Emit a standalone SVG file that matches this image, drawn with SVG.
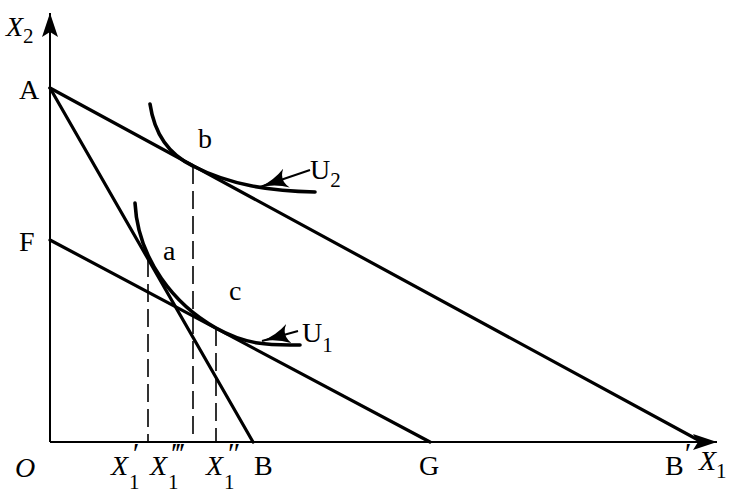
<svg xmlns="http://www.w3.org/2000/svg" width="750" height="498" viewBox="0 0 750 498">
<style>
.ax{stroke:#000;stroke-width:2;fill:none}
.ln{stroke:#000;stroke-width:3.2;fill:none;stroke-linecap:round}
.cv{stroke:#000;stroke-width:3.6;fill:none;stroke-linecap:round}
.ds{stroke:#000;stroke-width:1.6;fill:none;stroke-dasharray:18,7}
.pt{stroke:#000;stroke-width:2;fill:none}
text{font-family:"Liberation Serif","Times New Roman",serif;font-size:28px;fill:#000}
.it{font-style:italic}
.sb{font-size:21px;font-style:normal}
.pr{font-size:30px;font-style:italic}
</style>
<defs>
<marker id="ah" markerWidth="26" markerHeight="16" refX="24" refY="8" orient="auto" markerUnits="userSpaceOnUse">
<path d="M0,0 L24,8 L0,16 L5,8 Z" fill="#000"/>
</marker>
<marker id="bh" markerWidth="30" markerHeight="20" refX="28" refY="10" orient="auto" markerUnits="userSpaceOnUse">
<path d="M0,0 Q12,8 28,10 Q12,12 0,20 Q8,10 0,0 Z" fill="#000"/>
</marker>
</defs>
<g id="connectors">
<path class="ax" d="M50,442 V13" marker-end="url(#ah)"/>
<path class="ax" d="M50,442 H717" marker-end="url(#ah)"/>
<path class="ln" d="M50,88 L700,441"/>
<path class="ln" d="M50,88 L253,442"/>
<path class="ln" d="M50,240 L430,442"/>
<path class="ds" d="M148,259 V442"/>
<path class="ds" d="M193,166 V442"/>
<path class="ds" d="M216,328 V442"/>
<path class="pt" d="M310,170 L260,187" marker-end="url(#bh)"/>
<path class="pt" d="M298,331 L262,341" marker-end="url(#bh)"/>
</g>
<g id="U2">
<path class="cv" d="M150,104 C155,138 172,156 193,166 C230,185 270,191 315,192"/>
<text x="310" y="179">U<tspan class="sb" dy="8">2</tspan></text>
</g>
<g id="U1">
<path class="cv" d="M135,203 C138,260 175,305 216,328 C250,347 275,345 300,345"/>
<text x="302" y="342">U<tspan class="sb" dy="10">1</tspan></text>
</g>
<g id="labels">
<text class="it" x="6" y="36">X<tspan class="sb" dy="7">2</tspan></text>
<text x="19" y="99">A</text>
<text x="19" y="251">F</text>
<text x="198" y="148">b</text>
<text x="163" y="260">a</text>
<text x="229" y="300">c</text>
<text class="it" x="15" y="477">O</text>
<text class="it" x="111" y="475">X</text><text class="sb" x="129" y="489">1</text><text class="pr" x="131" y="463">′</text>
<text class="it" x="150" y="475">X</text><text class="sb" x="168" y="489">1</text><text class="pr" x="170" y="463">‴</text>
<text class="it" x="206" y="475">X</text><text class="sb" x="224" y="489">1</text><text class="pr" x="226" y="463">″</text>
<text x="254" y="475">B</text>
<text x="419" y="475">G</text>
<text x="665" y="475">B</text><text class="pr" x="683" y="463" font-style="normal">′</text>
<text class="it" x="699" y="470">X<tspan class="sb" dy="8">1</tspan></text>
</g>
</svg>
